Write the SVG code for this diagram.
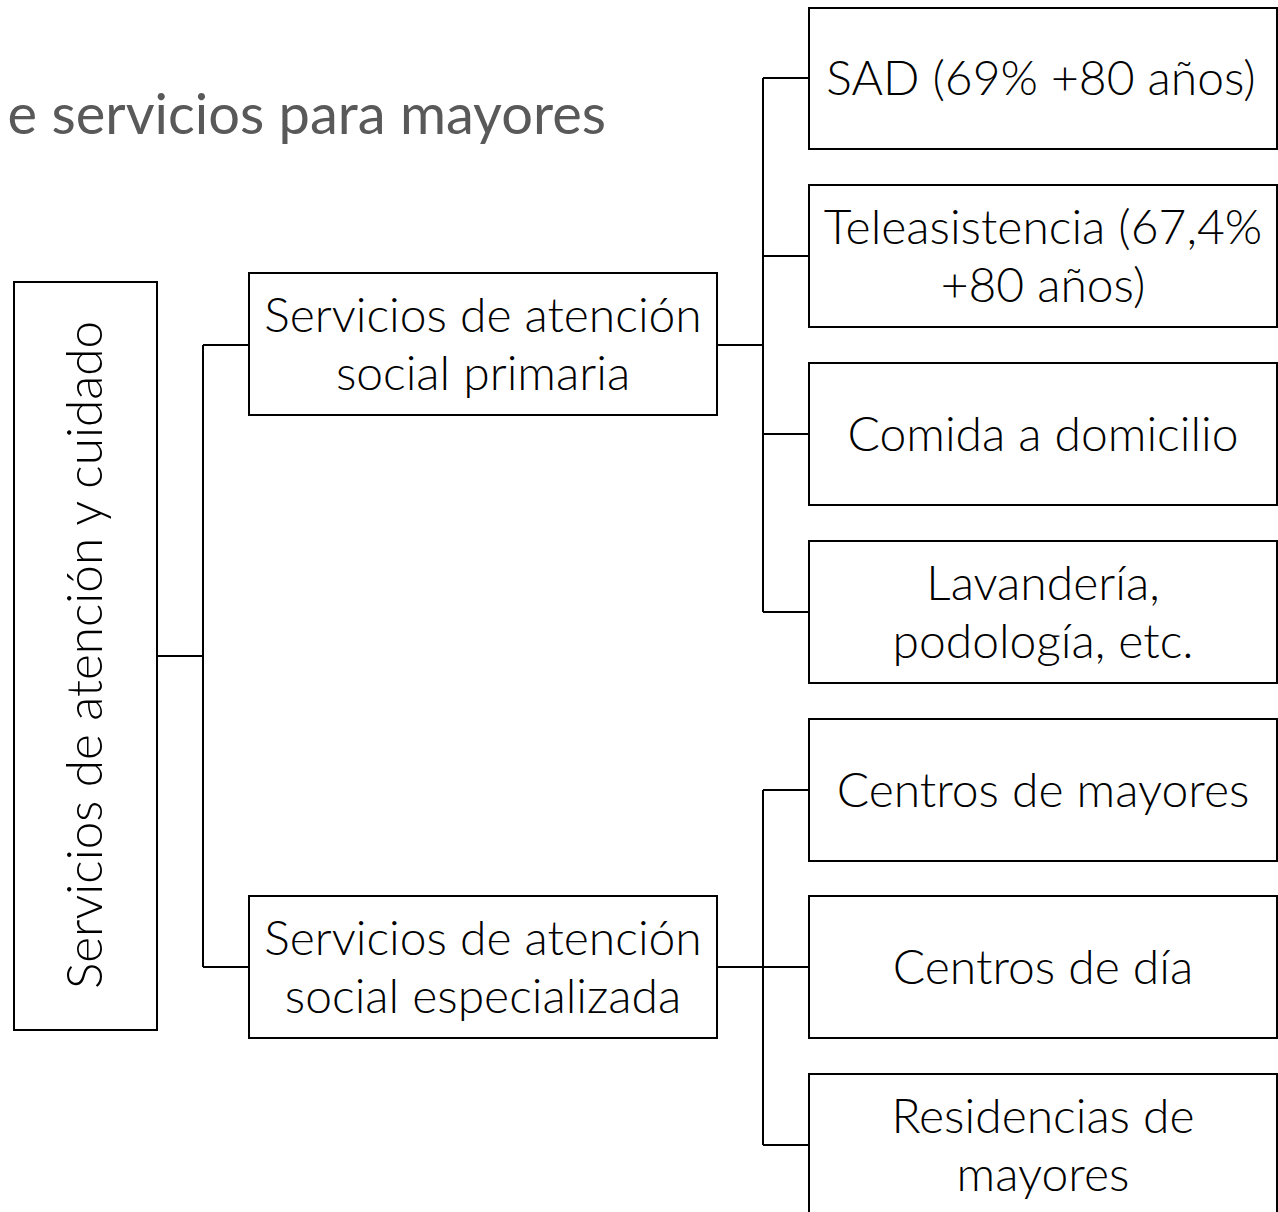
<svg xmlns="http://www.w3.org/2000/svg" width="1278" height="1212" viewBox="0 0 1278 1212">
<style>
.box{fill:#fff;stroke:#000;stroke-width:2}
.t{font-family:Lato,"Open Sans","Liberation Sans",sans-serif;font-weight:300;font-size:48px;fill:#000;text-anchor:middle}
.title{font-family:Lato,"Open Sans","Liberation Sans",sans-serif;font-weight:400;font-size:56px;fill:#595959;text-anchor:end}
.c{fill:none;stroke:#000;stroke-width:2}
</style>
<rect width="1278" height="1212" fill="#fff"/>
<text class="title" x="606" y="134">e servicios para mayores</text>
<g id="connectors">
<path class="c" d="M157 656H203M203 345V967M203 345H249M203 967H249"/>
<path class="c" d="M717 345H763M763 78V612M763 78H809M763 256H809M763 434H809M763 612H809"/>
<path class="c" d="M717 967H763M763 790V1145M763 790H809M763 967H809M763 1145H809"/>
</g>
<g id="root"><rect class="box" x="14" y="282" width="143" height="748"/>
<text class="t" transform="translate(102 655) rotate(-90)" style="font-size:49.5px">Servicios de atención y cuidado</text></g>
<g id="primaria"><rect class="box" x="249" y="273" width="468" height="142"/>
<text class="t" x="483" y="332">Servicios de atención</text><text class="t" x="483" y="390">social primaria</text></g>
<g id="especializada"><rect class="box" x="249" y="896" width="468" height="142"/>
<text class="t" x="483" y="955">Servicios de atención</text><text class="t" x="483" y="1013">social especializada</text></g>
<g id="sad"><rect class="box" x="809" y="8" width="468" height="141"/>
<text class="t" x="1041" y="95">SAD (69% +80 años)</text></g>
<g id="tele"><rect class="box" x="809" y="185" width="468" height="142"/>
<text class="t" x="1043" y="244">Teleasistencia (67,4%</text><text class="t" x="1043" y="302">+80 años)</text></g>
<g id="comida"><rect class="box" x="809" y="363" width="468" height="142"/>
<text class="t" x="1043" y="451">Comida a domicilio</text></g>
<g id="lavanderia"><rect class="box" x="809" y="541" width="468" height="142"/>
<text class="t" x="1043" y="600">Lavandería,</text><text class="t" x="1043" y="658">podología, etc.</text></g>
<g id="centros-mayores"><rect class="box" x="809" y="719" width="468" height="142"/>
<text class="t" x="1043" y="807">Centros de mayores</text></g>
<g id="centros-dia"><rect class="box" x="809" y="896" width="468" height="142"/>
<text class="t" x="1043" y="984">Centros de día</text></g>
<g id="residencias"><rect class="box" x="809" y="1074" width="468" height="142"/>
<text class="t" x="1043" y="1133">Residencias de</text><text class="t" x="1043" y="1191">mayores</text></g>
</svg>
